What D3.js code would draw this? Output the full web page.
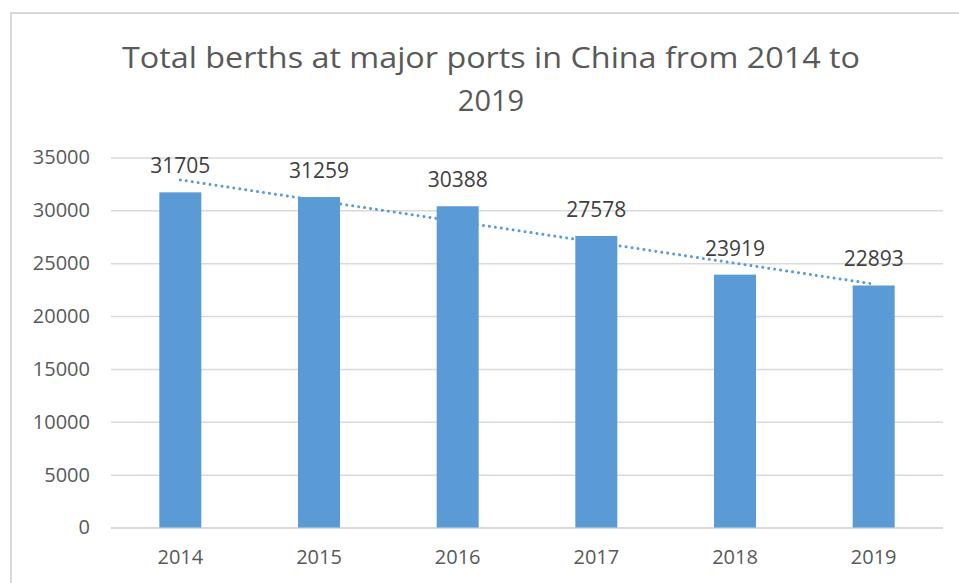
<!DOCTYPE html>
<html>
<head>
<meta charset="utf-8">
<script src="https://cdn.jsdelivr.net/npm/d3@7"></script>
<style>
  body { margin: 0; background: #fff; }
  svg text { font-family: "Open Sans", "Noto Sans", sans-serif; }
</style>
</head>
<body>
<div id="chart"></div>
<script>
// data
const years = ['2014', '2015', '2016', '2017', '2018', '2019'];
const berths = [31705, 31259, 30388, 27578, 23919, 22893];
const yTicks = [0, 5000, 10000, 15000, 20000, 25000, 30000, 35000];
const titleLines = ['Total berths at major ports in China from 2014 to', '2019'];

const W = 959, H = 583;
const margin = { top: 157.5, right: 16, bottom: 55.5, left: 111 };

const svg = d3.select('#chart').append('svg')
    .attr('width', W)
    .attr('height', H);

// chart frame (runs off the right and bottom edge)
svg.append('rect')
    .attr('x', 11).attr('y', 13)
    .attr('width', W + 20).attr('height', H + 20)
    .attr('fill', '#fff')
    .attr('stroke', '#d9d9d9')
    .attr('stroke-width', 2);

// title
svg.append('g').selectAll('text')
    .data(titleLines)
  .enter().append('text')
    .attr('x', 491)
    .attr('y', (d, i) => 68 + i * 43)
    .attr('text-anchor', 'middle')
    .attr('fill', '#595959')
    .style('font-size', '29px')
    .attr('textLength', (d, i) => i === 0 ? 738 : null)
    .attr('lengthAdjust', 'spacingAndGlyphs')
    .text(d => d);

const x = d3.scaleBand()
    .domain(years)
    .range([margin.left, W - margin.right])
    .paddingInner(0.697)
    .paddingOuter(0.3485);

const y = d3.scaleLinear()
    .domain([0, 35000])
    .range([H - margin.bottom, margin.top]);

// gridlines + y labels
const yAxis = svg.append('g')
    .attr('transform', `translate(${margin.left},0)`)
    .call(d3.axisLeft(y).tickValues(yTicks)
        .tickSize(-(W - margin.right - margin.left))
        .tickPadding(21)
        .tickFormat(d3.format('d')));
yAxis.select('.domain').remove();
yAxis.selectAll('line')
    .attr('stroke', '#d9d9d9')
    .attr('stroke-width', d => d === 0 ? 2 : 1.5);
yAxis.selectAll('text')
    .attr('fill', '#595959')
    .style('font-size', '20px');

// x labels
const xAxis = svg.append('g')
    .attr('transform', `translate(0,${H - margin.bottom})`)
    .call(d3.axisBottom(x).tickSize(0).tickPadding(22));
xAxis.select('.domain').remove();
xAxis.selectAll('text')
    .attr('fill', '#595959')
    .style('font-size', '20px');

const rows = years.map((yr, i) => ({ year: yr, value: berths[i] }));

// bars
svg.append('g').selectAll('rect')
    .data(rows)
  .enter().append('rect')
    .attr('x', d => x(d.year))
    .attr('width', x.bandwidth())
    .attr('y', d => y(d.value))
    .attr('height', d => y(0) - y(d.value))
    .attr('fill', '#5b9bd5');

// linear trendline (least squares over the category index)
const n = berths.length;
const mx = (n + 1) / 2;
const my = d3.mean(berths);
const slope = d3.sum(berths, (v, i) => (i + 1 - mx) * (v - my)) /
              d3.sum(berths, (v, i) => (i + 1 - mx) ** 2);
const fit = i => my + slope * (i + 1 - mx);

svg.append('line')
    .attr('x1', x(years[0]) + x.bandwidth() / 2)
    .attr('x2', x(years[n - 1]) + x.bandwidth() / 2)
    .attr('y1', y(fit(0)))
    .attr('y2', y(fit(n - 1)))
    .attr('stroke', '#5b9bd5')
    .attr('stroke-width', 3)
    .attr('stroke-linecap', 'round')
    .attr('stroke-dasharray', '0.01 6');

// data labels
svg.append('g').selectAll('text')
    .data(rows)
  .enter().append('text')
    .attr('x', d => x(d.year) + x.bandwidth() / 2)
    .attr('y', d => y(d.value) - 19)
    .attr('text-anchor', 'middle')
    .attr('fill', '#404040')
    .style('font-size', '21px')
    .text(d => d.value);
</script>
</body>
</html>
